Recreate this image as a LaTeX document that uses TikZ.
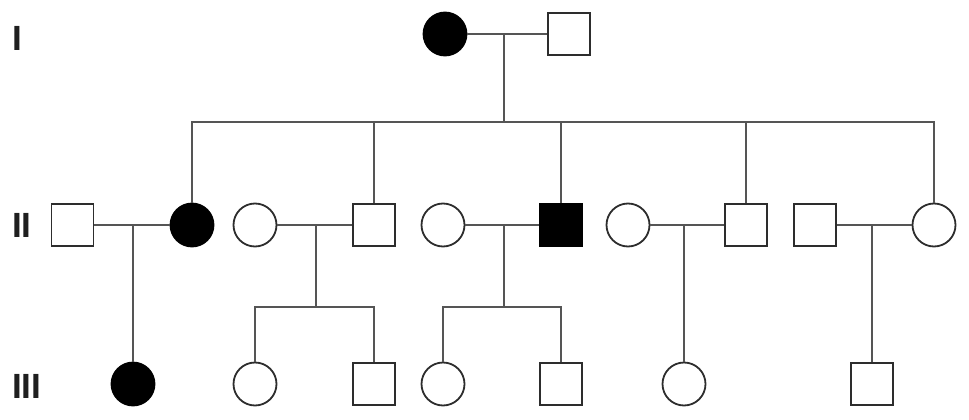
\documentclass[tikz,border=0pt]{standalone}
\usepackage{fontspec}
\setmainfont{Liberation Sans}
\definecolor{outl}{RGB}{45,45,45}
\definecolor{conn}{RGB}{85,85,85}
\begin{document}
\begin{tikzpicture}[x=1pt,y=-1pt,
  fem/.style={circle,draw=outl,line width=1.8pt,minimum size=43pt,inner sep=0pt,fill=white},
  mal/.style={rectangle,draw=outl,line width=1.8pt,minimum size=42pt,inner sep=0pt,fill=white},
  aff/.style={fill=black,draw=black},
  gen/.style={font=\fontsize{35}{35}\selectfont\bfseries,anchor=west,inner sep=0pt,text=black!88},
  con/.style={draw=conn,line width=1.4pt}]
\useasboundingbox (0,0) rectangle (969,420);
% generation labels
\node[gen] (gI) at (12,38) {I};
\node[gen] (gII) at (12,225) {II};
\node[gen] (gIII) at (12,386) {III};
% generation I
\node[fem,aff] (F1) at (445,34) {};
\node[mal] (M1) at (569,34) {};
% generation II
\node[mal] (a) at (72.5,225) {};
\node[fem,aff] (b) at (192,225) {};
\node[fem] (c) at (255,225) {};
\node[mal] (d) at (374,225) {};
\node[fem] (e) at (443,225) {};
\node[mal,aff] (f) at (561,225) {};
\node[fem] (g) at (628,225) {};
\node[mal] (h) at (746,225) {};
\node[mal] (i) at (815,225) {};
\node[fem] (j) at (934,225) {};
% generation III
\node[fem,aff] (k) at (133,384) {};
\node[fem] (l) at (255,384) {};
\node[mal] (m) at (374,384) {};
\node[fem] (n) at (443,384) {};
\node[mal] (o) at (561,384) {};
\node[fem] (p) at (684,384) {};
\node[mal] (q) at (872,384) {};
% junction points
\coordinate (j1) at (504,34);
\coordinate (s1) at (504,122);
\coordinate (j2) at (133,225);
\coordinate (j3) at (316,225);
\coordinate (s3) at (316,307);
\coordinate (j4) at (504,225);
\coordinate (s4) at (504,307);
\coordinate (j5) at (684,225);
\coordinate (j6) at (872,225);
% generation I couple and sibship
\draw[con] (F1) -- (M1);
\draw[con] (j1) -- (s1);
\draw[con] (b) -- (b |- s1) -| (j);
\draw[con] (d) -- (d |- s1);
\draw[con] (f) -- (f |- s1);
\draw[con] (h) -- (h |- s1);
% generation II couples
\draw[con] (a) -- (b);
\draw[con] (j2) -- (k);
\draw[con] (c) -- (d);
\draw[con] (j3) -- (s3);
\draw[con] (l) -- (l |- s3) -| (m);
\draw[con] (e) -- (f);
\draw[con] (j4) -- (s4);
\draw[con] (n) -- (n |- s4) -| (o);
\draw[con] (g) -- (h);
\draw[con] (j5) -- (p);
\draw[con] (i) -- (j);
\draw[con] (j6) -- (q);
\end{tikzpicture}
\end{document}
